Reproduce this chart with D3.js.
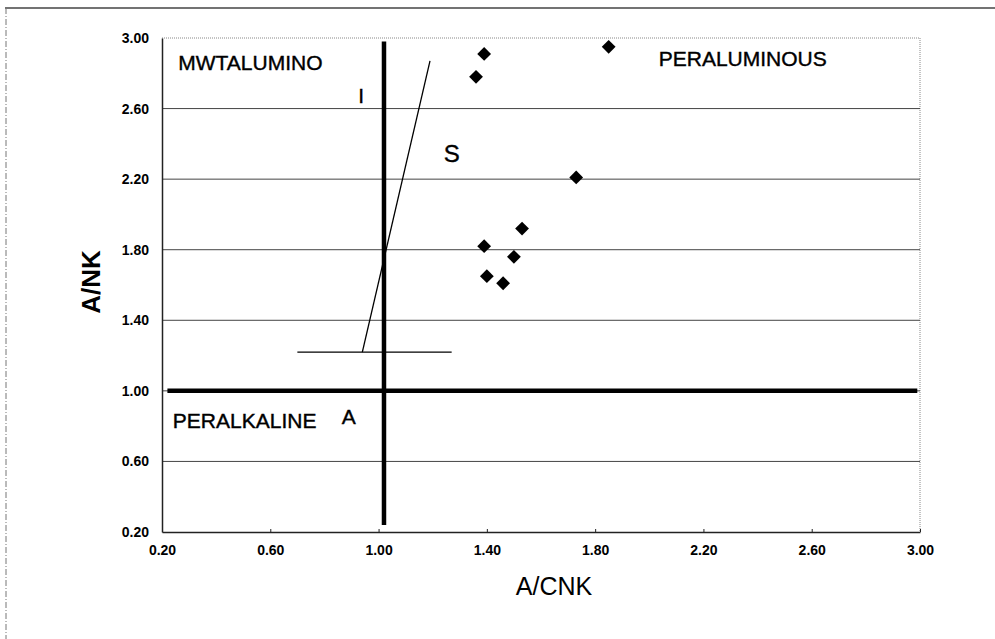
<!DOCTYPE html>
<meta charset="utf-8">
<script src="https://d3js.org/d3.v7.min.js"></script>
<style>
body { margin: 0; background: #fff; }
text { font-family: "Liberation Sans", Arial, sans-serif; fill: #000; }
</style>
<svg id="chart" width="995" height="639"></svg>
<script>
// sample values
const acnk = [1.39, 1.36, 1.85, 1.73, 1.53, 1.39, 1.50, 1.40, 1.46];
const ank  = [2.91, 2.78, 2.95, 2.21, 1.92, 1.82, 1.76, 1.65, 1.61];

const ticks = [0.2, 0.6, 1.0, 1.4, 1.8, 2.2, 2.6, 3.0];

// field boundaries (x, y pairs)
const acnkLine = [[1.02, 0.24], [1.02, 2.98]];     // A/CNK = 1
const ankLine  = [[0.22, 1.00], [2.99, 1.00]];     // A/NK = 1
const isLine   = [[0.94, 1.22], [1.19, 2.87]];     // I / S divide
const isBase   = [[0.70, 1.22], [1.27, 1.22]];

const labels = [
  { t: "MWTALUMINO",   x: 0.26, y: 2.82, size: 21, anchor: "start" },
  { t: "PERALUMINOUS", x: 2.035, y: 2.84, size: 21, anchor: "start" },
  { t: "I",            x: 0.925, y: 2.63, size: 21, anchor: "start" },
  { t: "S",            x: 1.27, y: 2.30, size: 24, anchor: "middle" },
  { t: "PERALKALINE",  x: 0.24, y: 0.79, size: 21, anchor: "start" },
  { t: "A",            x: 0.89, y: 0.81, size: 21, anchor: "middle" }
];

const svg = d3.select("#chart");

// outer frame
svg.append("line").attr("x1", 5).attr("x2", 995).attr("y1", 8).attr("y2", 8)
  .attr("stroke", "#444").attr("stroke-width", 1.5);
svg.append("line").attr("x1", 6).attr("x2", 6).attr("y1", 8).attr("y2", 639)
  .attr("stroke", "#777").attr("stroke-width", 1).attr("stroke-dasharray", "6 2 1 2");

const x = d3.scaleLinear().domain([0.2, 3.0]).range([162, 920]);
const y = d3.scaleLinear().domain([0.2, 3.0]).range([532, 38]);

// plot border, dotted at top and right
svg.append("line").attr("x1", x(0.2)).attr("x2", x(3.0)).attr("y1", y(3.0)).attr("y2", y(3.0))
  .attr("stroke", "#888").attr("stroke-dasharray", "1 1");
svg.append("line").attr("x1", x(3.0)).attr("x2", x(3.0)).attr("y1", y(3.0)).attr("y2", y(0.2))
  .attr("stroke", "#888").attr("stroke-dasharray", "1 1");

// gridlines
svg.append("g").selectAll("line")
  .data(ticks.slice(1, -1))
  .join("line")
    .attr("x1", x(0.2)).attr("x2", x(3.0))
    .attr("y1", d => y(d)).attr("y2", d => y(d))
    .attr("stroke", "#444").attr("stroke-width", 1);

// axes
const xAxis = svg.append("g")
  .attr("transform", `translate(0,${y(0.2)})`)
  .call(d3.axisBottom(x).tickValues(ticks).tickFormat(d3.format(".2f")).tickSizeInner(-3).tickSizeOuter(0).tickPadding(13));
const yAxis = svg.append("g")
  .attr("transform", `translate(${x(0.2)},0)`)
  .call(d3.axisLeft(y).tickValues(ticks).tickFormat(d3.format(".2f")).tickSizeInner(0).tickSizeOuter(0).tickPadding(13));

[xAxis, yAxis].forEach(a => {
  a.select(".domain").attr("stroke", "#222").attr("stroke-width", 1.5);
  a.selectAll(".tick line").attr("stroke", "#222");
  a.selectAll(".tick text")
    .style("font-family", "'Liberation Sans', Arial, sans-serif")
    .style("font-size", "14px").style("font-weight", "bold").attr("fill", "#000");
});

// boundaries
const line = d3.line().x(d => x(d[0])).y(d => y(d[1]));
svg.append("path").attr("d", line(isLine)).attr("fill", "none").attr("stroke", "#000").attr("stroke-width", 1.3);
svg.append("path").attr("d", line(isBase)).attr("fill", "none").attr("stroke", "#000").attr("stroke-width", 1.3);
svg.append("path").attr("d", line(ankLine)).attr("fill", "none").attr("stroke", "#000").attr("stroke-width", 4.5);
svg.append("path").attr("d", line(acnkLine)).attr("fill", "none").attr("stroke", "#000").attr("stroke-width", 4.5);

// samples
const diamond = d3.symbol().type(d3.symbolSquare).size(95);
svg.append("g").selectAll("path")
  .data(acnk.map((v, i) => [v, ank[i]]))
  .join("path")
    .attr("d", diamond)
    .attr("transform", d => `translate(${x(d[0])},${y(d[1])}) rotate(45)`)
    .attr("fill", "#000");

// field names
svg.append("g").selectAll("text")
  .data(labels)
  .join("text")
    .attr("x", d => x(d.x)).attr("y", d => y(d.y))
    .attr("text-anchor", d => d.anchor)
    .style("font-size", d => d.size + "px")
    .attr("stroke", "#000").attr("stroke-width", 0.4)
    .text(d => d.t);

// axis titles
svg.append("text")
  .attr("x", 554).attr("y", 595)
  .attr("text-anchor", "middle")
  .style("font-size", "25px")
  .text("A/CNK");
svg.append("text")
  .attr("transform", "translate(100,282) rotate(-90)")
  .attr("text-anchor", "middle")
  .style("font-size", "26px").style("font-weight", "bold")
  .text("A/NK");
</script>
